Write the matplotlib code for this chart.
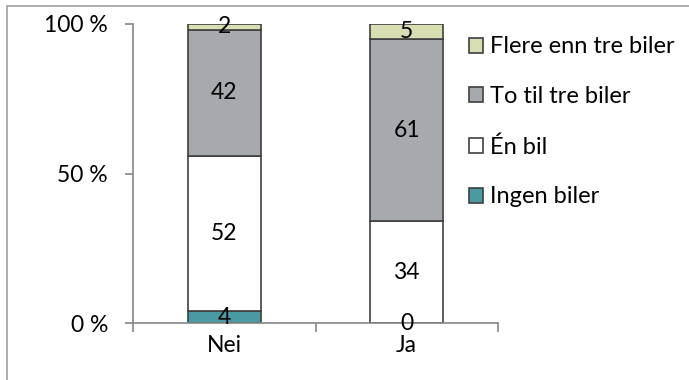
import matplotlib.pyplot as plt
from matplotlib.patches import Rectangle

# Andel husholdninger etter antall biler
kategorier = ['Nei', 'Ja']
serier = ['Ingen biler', 'Én bil', 'To til tre biler', 'Flere enn tre biler']
ingen = [4, 0]
en_bil = [52, 34]
to_tre = [42, 61]
flere = [2, 5]
farger = ['#4a9aa3', '#ffffff', '#a6aaae', '#d8ddb2']

plt.rcParams['font.family'] = ['Lato', 'DejaVu Sans']
fs = 16.5

fig = plt.figure(figsize=(6.89, 3.80), dpi=100)
ax = fig.add_axes([133 / 689, 1 - 323 / 380, 365 / 689, 299 / 380])

# ramme rundt diagrammet
fig.patches.append(Rectangle((7 / 689, -0.1), 1.1, 1.1 - 5.5 / 380,
                             transform=fig.transFigure, fill=False,
                             edgecolor='#a0a0a0', linewidth=1.2))

x = range(len(kategorier))
bunn = [0, 0]
handles = []
for navn, verdier, farge in zip(serier, [ingen, en_bil, to_tre, flere], farger):
    b = ax.bar(x, verdier, width=0.4, bottom=bunn, color=farge,
               edgecolor='#3f3f3f', linewidth=1.2, label=navn)
    handles.append(b)
    for i, v in enumerate(verdier):
        ax.text(i, bunn[i] + v / 2, str(v), ha='center', va='center',
                fontsize=fs, color='black')
    bunn = [bunn[i] + verdier[i] for i in range(len(bunn))]

ax.set_xlim(-0.5, 1.5)
ax.set_ylim(0, 100)
ax.set_yticks([0, 50, 100])
ax.set_yticklabels(['0 %', '50 %', '100 %'], fontsize=fs)
ax.set_xticks(list(x))
ax.set_xticklabels(kategorier, fontsize=fs)
ax.set_xticks([-0.5, 0.5, 1.5], minor=True)
ax.tick_params(axis='x', which='major', length=0, pad=9)
ax.tick_params(axis='x', which='minor', length=6.5, width=1.2, color='#868686')
ax.tick_params(axis='y', length=6, width=1.2, color='#868686', pad=12)

for s in ['top', 'right']:
    ax.spines[s].set_visible(False)
for s in ['left', 'bottom']:
    ax.spines[s].set_color('#868686')
    ax.spines[s].set_linewidth(1.2)

leg = ax.legend(handles[::-1], serier[::-1], loc='upper left',
                bbox_to_anchor=(0.894, 0.99), frameon=False, fontsize=fs + 0.5,
                handlelength=0.6, handleheight=0.6, handletextpad=0.32,
                labelspacing=1.22, borderaxespad=0)

fig.savefig('out.png', dpi=100)
